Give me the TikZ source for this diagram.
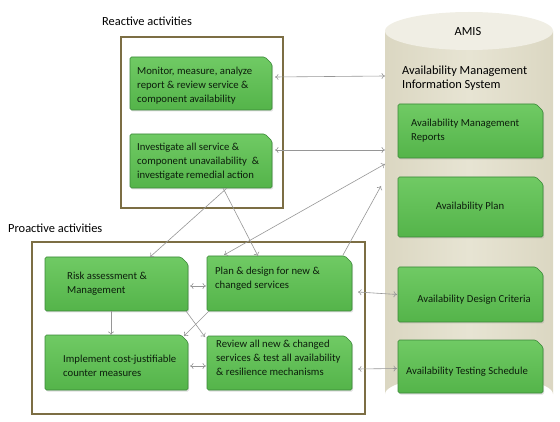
\documentclass[tikz,border=0pt]{standalone}
\usepackage{fontspec}
\setmainfont{Carlito}
\usetikzlibrary{shadows,arrows.meta}
\definecolor{gtop}{RGB}{112,202,100}
\definecolor{gbot}{RGB}{84,180,74}
\definecolor{gedge}{RGB}{58,136,56}
\definecolor{gtext}{RGB}{12,30,12}
\definecolor{frame}{RGB}{124,110,68}
\definecolor{arr}{RGB}{150,150,150}
\definecolor{cylbody}{RGB}{219,215,194}
\definecolor{cylmid}{RGB}{231,228,211}
\definecolor{cyltop}{RGB}{240,238,228}
\tikzset{
  gbox/.style={rectangle, minimum width=142pt, minimum height=53pt, inner sep=0pt, outer sep=0pt, anchor=north west},
  gfill/.style={top color=gtop, bottom color=gbot, draw=gedge, line width=0.6pt, rounded corners=1.5pt,
    drop shadow={opacity=0.25, shadow xshift=1.2pt, shadow yshift=-1.5pt}},
  btext/.style={font=\fontsize{10.7}{14}\selectfont, text=gtext, align=left, inner sep=0pt, anchor=north west},
  ctext/.style={font=\fontsize{10.7}{14}\selectfont, text=gtext, inner sep=0pt},
  lbl/.style={font=\fontsize{12.4}{14}\selectfont, text=black, inner sep=0pt},
  actframe/.style={draw=frame, line width=1.1pt},
  conn/.style={draw=arr, line width=0.6pt},
  tip/.tip={To[length=3.5pt,width=6pt]},
}
\newcommand\greenbox[1]{%
  \path[gfill] (#1.north west) -- ([xshift=-7pt]#1.north east) -- ([yshift=-7pt]#1.north east)
    -- (#1.south east) -- (#1.south west) -- cycle;}
\begin{document}
\begin{tikzpicture}[x=1pt,y=-1pt]
\useasboundingbox (0,0) rectangle (560,422);

% cylinder
\path[left color=cylbody, right color=cylbody, middle color=cylmid]
  (385,31) -- (385,394) arc[start angle=180,end angle=360,x radius=84,y radius=19]
  -- (553,31) -- cycle;
\path[fill=cyltop] (469,31) ellipse[x radius=84,y radius=19];
\coordinate (cylA) at (385,76);
\coordinate (cylB) at (385,150);
\coordinate (cylC) at (385,164);
\coordinate (cylD) at (381,186);

\node[lbl] (amis) at (468,32) {AMIS};
\node[lbl, anchor=north west, align=left] (amistitle) at (402,66) {Availability Management\\Information System};

% frames
\node[lbl, anchor=west] (reactL) at (102,21) {Reactive activities};
\draw[actframe] (121,37) rectangle (283,208);
\node[lbl, anchor=west] (proactL) at (8,228) {Proactive activities};
\draw[actframe] (32,242) rectangle (365,414);

% reactive boxes
\node[gbox] (mon) at (130,57) {}; \greenbox{mon}
\node[btext] (monT) at (137,67) {Monitor, measure, analyze\\report \& review service \&\\component availability};
\node[gbox, minimum height=54pt] (inv) at (130,134) {}; \greenbox{inv}
\node[btext] (invT) at (137,143) {Investigate all service \&\\component unavailability \ \&\\investigate remedial action};

% proactive boxes
\node[gbox, minimum width=143pt, minimum height=54pt] (risk) at (45,257) {}; \greenbox{risk}
\node[btext] (riskT) at (67,272) {Risk assessment \&\\Management};
\node[gbox, minimum width=145pt, minimum height=55pt] (plan) at (207,256) {}; \greenbox{plan}
\node[btext] (planT) at (215,267) {Plan \& design for new \&\\changed services};
\node[gbox, minimum width=143pt, minimum height=55pt] (impl) at (45,335) {}; \greenbox{impl}
\node[btext] (implT) at (63,355) {Implement cost-justifiable\\counter measures};
\node[gbox, minimum width=145pt, minimum height=54pt] (rev) at (207,336) {}; \greenbox{rev}
\node[btext] (revT) at (216,340) {Review all new \& changed\\services \& test all availability\\\& resilience mechanisms};

% AMIS boxes
\node[gbox, minimum width=145pt, minimum height=54pt] (rep) at (398,104) {}; \greenbox{rep}
\node[btext] (repT) at (411,119) {Availability Management\\Reports};
\node[gbox, minimum width=145pt, minimum height=60pt] (aplan) at (398,177) {}; \greenbox{aplan}
\node[ctext] (aplanT) at (470,207) {Availability Plan};
\node[gbox, minimum width=145pt, minimum height=55pt] (crit) at (398,267) {}; \greenbox{crit}
\node[ctext] (critT) at (474,300) {Availability Design Criteria};
\node[gbox, minimum width=145pt, minimum height=53pt] (test) at (398,340) {}; \greenbox{test}
\node[ctext] (testT) at (467,372) {Availability Testing Schedule};

% connectors
\draw[conn, tip-tip] ([xshift=3pt, yshift=6.5pt]mon.east) -- (cylA);
\draw[conn, tip-tip] ([xshift=3pt, yshift=11pt]inv.east) -- (cylB);
\draw[conn, tip-tip] ([xshift=17pt, yshift=1pt]plan.north west) -- (cylC);
\draw[conn, -tip] ([xshift=-9pt, yshift=1pt]plan.north east) -- (cylD);
\draw[conn, -tip] ([xshift=-45pt]inv.south east) -- ([xshift=-38pt]risk.north east);
\draw[conn, -tip] ([xshift=-49pt]inv.south east) -- ([xshift=51pt]plan.north west);
\draw[conn, tip-tip] ([xshift=2pt, yshift=-29pt]risk.north east) -- ([xshift=-1pt, yshift=-30pt]plan.north west);
\draw[conn, -tip] ([xshift=66pt]risk.south west) -- ([xshift=66pt]impl.north west);
\draw[conn, -tip] ([xshift=-2pt]risk.south east) -- ([xshift=-2pt, yshift=-1pt]rev.north west);
\draw[conn, -tip] ([xshift=2pt]plan.south west) -- ([xshift=-4pt, yshift=-1pt]impl.north east);
\draw[conn, tip-tip] ([xshift=2pt, yshift=-31pt]impl.north east) -- ([xshift=-1pt, yshift=-30pt]rev.north west);
\draw[conn, tip-tip] ([xshift=6pt, yshift=-36pt]plan.north east) -- ([xshift=-1pt]crit.west);
\draw[conn, tip-tip] ([xshift=6pt, yshift=-33pt]rev.north east) -- ([xshift=-1pt, yshift=-2pt]test.west);
\end{tikzpicture}
\end{document}
